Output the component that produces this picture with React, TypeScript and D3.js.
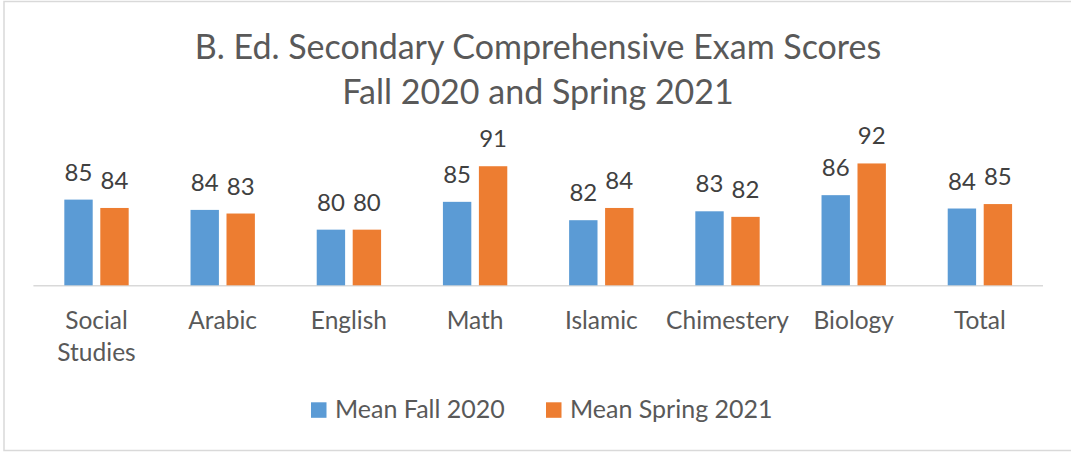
import React from "react";
import * as d3 from "d3";

const titleLines = ["B. Ed. Secondary Comprehensive Exam Scores", "Fall 2020 and Spring 2021"];
const categories = ["Social Studies", "Arabic", "English", "Math", "Islamic", "Chimestery", "Biology", "Total"];
const seriesNames = ["Mean Fall 2020", "Mean Spring 2021"];
const fall2020 = [85.4, 83.55, 80.0, 85.0, 81.7, 83.3, 86.2, 83.8];
const spring2021 = [83.9, 82.9, 80.0, 91.4, 83.9, 82.3, 91.9, 84.6];
const seriesColors = ["#5B9BD5", "#ED7D31"];
const yDomain = [70, 95];

const W = 1071;
const H = 452;
const FONT = "Lato, 'Open Sans', sans-serif";

export default function App() {
  const x0 = d3.scaleBand<string>().domain(categories).range([33.4, 1043]).paddingInner(0.49).paddingOuter(0.245);
  const x1 = d3.scaleBand<string>().domain(seriesNames).range([0, x0.bandwidth()]).paddingInner(0.211);
  const y = d3.scaleLinear().domain(yDomain).range([285.3, 146.2]);
  const fmt = d3.format(".0f");
  const values = [fall2020, spring2021];
  const base = y(yDomain[0]);

  const legendX = [311, 546];

  return (
    <div style={{ position: "absolute", left: 0, top: 0 }}>
      <svg width={W} height={H} style={{ display: "block" }} fontFamily={FONT}>
        <rect x={0} y={0} width={W} height={H} fill="#fff" />
        <rect x={4} y={1.5} width={W + 10} height={449} fill="none" stroke="#d9d9d9" strokeWidth={1.5} />
        {titleLines.map((t, i) => (
          <text key={t} x={538} y={59 + i * 45} textAnchor="middle" fontSize={34} fill="#595959">
            {t}
          </text>
        ))}
        <line x1={33.4} x2={1043} y1={285.8} y2={285.8} stroke="#d9d9d9" strokeWidth={1.5} />
        {categories.map((c, ci) => (
          <g key={c} transform={`translate(${x0(c)},0)`}>
            {seriesNames.map((s, si) => {
              const v = values[si][ci];
              const bx = x1(s)!;
              const bw = x1.bandwidth();
              return (
                <g key={s}>
                  <rect x={bx} y={y(v)} width={bw} height={base - y(v)} fill={seriesColors[si]} />
                  <text x={bx + bw / 2} y={y(v) - 19} textAnchor="middle" fontSize={24} fill="#404040">
                    {fmt(v)}
                  </text>
                </g>
              );
            })}
            {c.split(" ").length > 1 && c.length > 12
              ? c.split(" ").map((w, li) => (
                  <text key={w} x={x0.bandwidth() / 2} y={328.5 + li * 32.7} textAnchor="middle" fontSize={24.5} fill="#595959">
                    {w}
                  </text>
                ))
              : (
                  <text x={x0.bandwidth() / 2} y={328.5} textAnchor="middle" fontSize={24.5} fill="#595959">
                    {c}
                  </text>
                )}
          </g>
        ))}
        {seriesNames.map((s, si) => (
          <g key={s} transform={`translate(${legendX[si]},0)`}>
            <rect x={0} y={402.3} width={15.5} height={15.5} fill={seriesColors[si]} />
            <text x={24} y={418} fontSize={25} fill="#595959">
              {s}
            </text>
          </g>
        ))}
      </svg>
    </div>
  );
}
